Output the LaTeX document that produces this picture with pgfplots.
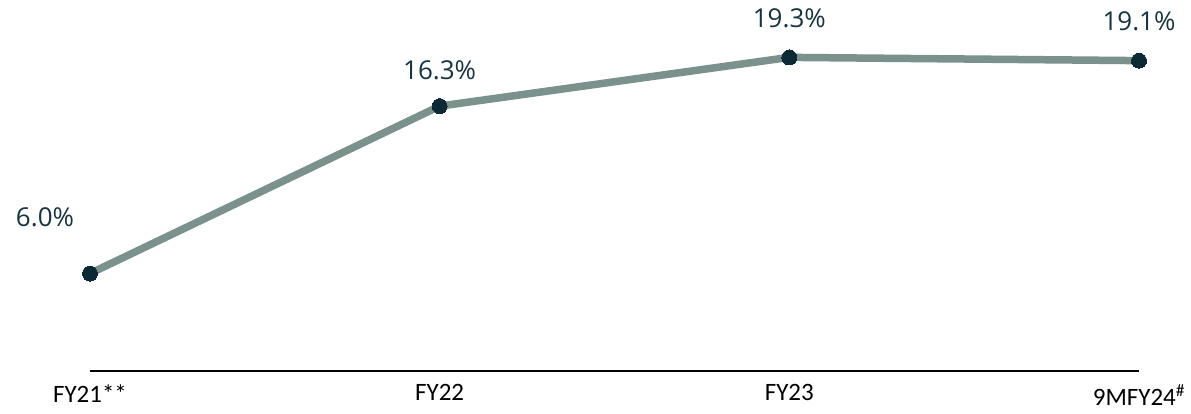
\documentclass[border=0pt]{standalone}
\usepackage{pgfplots}
\pgfplotsset{compat=1.18}
\usepackage{fontspec}
\setmainfont{Carlito}
\newfontfamily\labfont{Open Sans}
\definecolor{linec}{HTML}{7B918C}
\definecolor{markc}{HTML}{0B2A35}
\definecolor{labc}{HTML}{163440}
\begin{document}
\begin{tikzpicture}[x=1pt,y=1pt]
\path[use as bounding box] (0,0) rectangle (1191,413);
\begin{axis}[
  at={(90pt,42pt)}, anchor=origin,
  scale only axis, width=1049pt, height=325pt,
  xmin=0, xmax=3, ymin=0, ymax=20,
  clip=false,
  axis y line=none,
  axis x line*=bottom,
  x axis line style={black, line width=2pt, -},
  xtick={0,1,2,3},
  xticklabels={FY21**,FY22,FY23,9MFY24\textsuperscript{\#}},
  major tick length=0pt,
  xticklabel style={font=\fontsize{25}{30}\selectfont, text=black, yshift=-10pt},
]
\addplot[linec, line width=7.5pt, mark=*, mark size=7.5pt,
  mark options={fill=markc, draw=markc, line width=0pt}]
  coordinates {(0,6.0) (1,16.3) (2,19.3) (3,19.1)};
\node[text=labc, font=\labfont\fontsize{26}{30}\selectfont] at (axis cs:0,6.0) [xshift=-45pt, yshift=56pt] {6.0\%};
\node[text=labc, font=\labfont\fontsize{26}{30}\selectfont] at (axis cs:1,16.3) [yshift=36pt] {16.3\%};
\node[text=labc, font=\labfont\fontsize{26}{30}\selectfont] at (axis cs:2,19.3) [yshift=39pt] {19.3\%};
\node[text=labc, font=\labfont\fontsize{26}{30}\selectfont] at (axis cs:3,19.1) [yshift=39pt] {19.1\%};
\end{axis}
\end{tikzpicture}
\end{document}
